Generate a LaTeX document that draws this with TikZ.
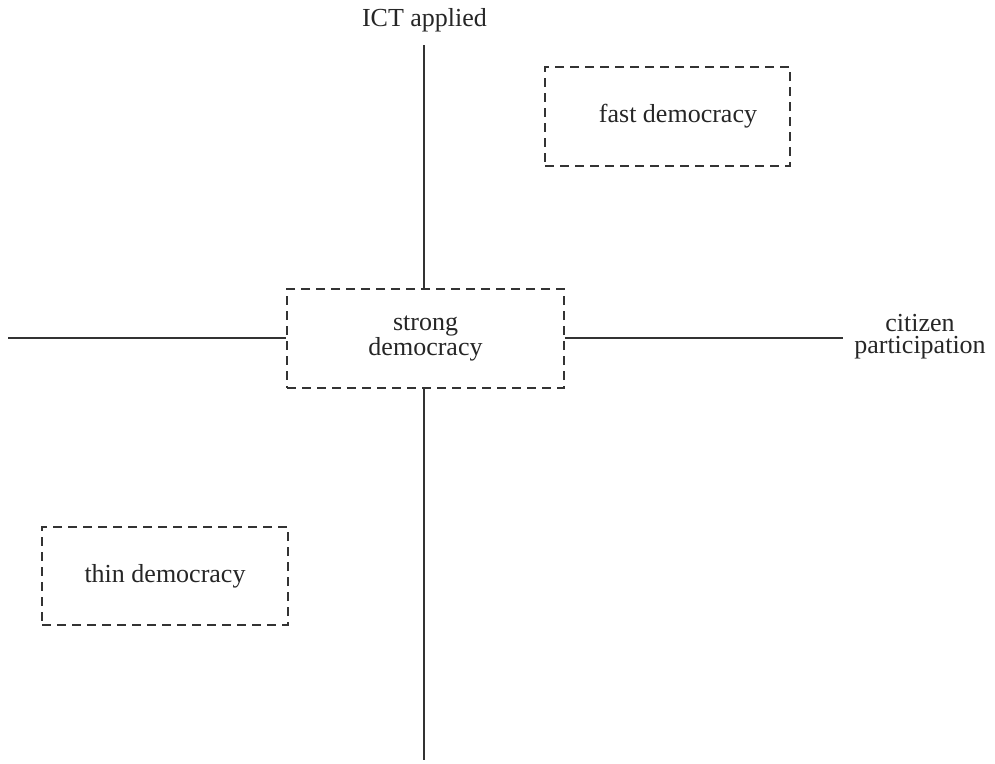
\documentclass[tikz,border=0pt]{standalone}
\usepackage{fontspec}
\setmainfont{Liberation Serif}
\begin{document}
\begin{tikzpicture}[x=1pt,y=-1pt,
  axis/.style={draw=black!80, line width=1.8pt},
  dbox/.style={draw=black!80, line width=1.6pt, dash pattern=on 9pt off 6pt, inner sep=0pt, align=center, text=black!85, font=\fontsize{26}{22}\selectfont},
  lbl/.style={text=black!85, align=center, font=\fontsize{26}{22}\selectfont, inner sep=0pt}]
\useasboundingbox (0,0) rectangle (995,763);
\node[dbox, minimum width=277pt, minimum height=99pt] (strong) at (425.5,338.5) {strong\\democracy};
\node[dbox, minimum width=245pt, minimum height=99pt] (fast) at (667.5,116.5) {\hspace*{21pt}fast democracy};
\node[dbox, minimum width=246pt, minimum height=98pt] (thin) at (165,576) {thin democracy};
\node[lbl, anchor=base] (ict) at (424.5,26) {ICT applied};
\node[lbl] (cit) at (920,337) {citizen\\participation};
\coordinate (top) at (424,45);
\coordinate (bot) at (424,760);
\coordinate (left) at (8,338);
\coordinate (right) at (843,338);
\draw[axis] (top) -- (top |- strong.north);
\draw[axis] (bot |- strong.south) -- (bot);
\draw[axis] (left) -- (strong.west |- left);
\draw[axis] (strong.east |- right) -- (right);
\end{tikzpicture}
\end{document}
